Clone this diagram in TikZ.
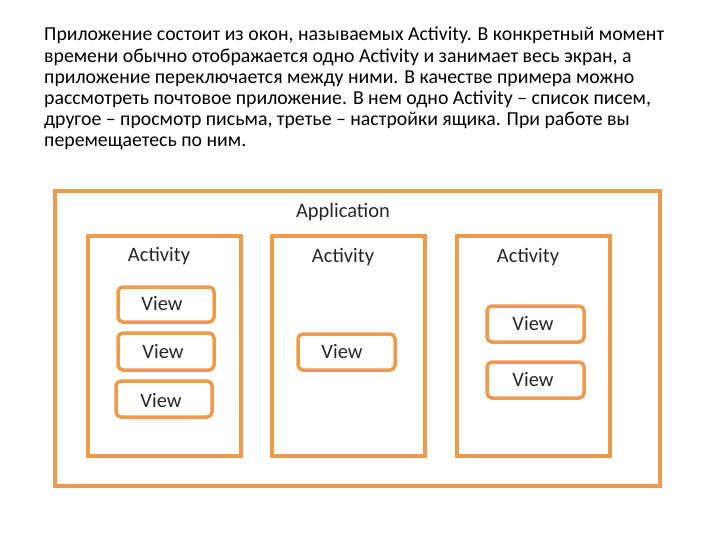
\documentclass[tikz,border=0pt]{standalone}
\usepackage{fontspec}
\setmainfont{Carlito}
\definecolor{org}{HTML}{EE9A4D}
\begin{document}
\begin{tikzpicture}[x=1pt,y=-1pt,
 box/.style={draw=org,line width=3.5pt},
 vbox/.style={draw=org,line width=3.5pt,rounded corners=5pt},
 lbl/.style={font=\fontsize{20.5}{24}\selectfont,text=black!85}]
\useasboundingbox (0,0) rectangle (720,540);
\node[anchor=north west,align=left,inner sep=0,font=\fontsize{19.8}{21.2}\selectfont] (txt) at (44,27)
{Приложение состоит из окон, называемых Activity. В конкретный момент\\
времени обычно отображается одно Activity и занимает весь экран, а\\
приложение переключается между ними. В качестве примера можно\\
рассмотреть почтовое приложение. В нем одно Activity – список писем,\\
другое – просмотр письма, третье – настройки ящика. При работе вы\\
перемещаетесь по ним.};
\draw[box] (55,191) rectangle (660,486);
\node[lbl] (app) at (343,212) {Application};
\draw[box] (88,236) rectangle (241,456);
\draw[box] (272,236) rectangle (425,456);
\draw[box] (457,236) rectangle (610,456);
\node[lbl] (a1) at (159,256) {Activity};
\node[lbl] (a2) at (343,257) {Activity};
\node[lbl] (a3) at (528,257) {Activity};
\draw[vbox] (118,287) rectangle (214,322); \node[lbl] (v1) at (162,304) {View};
\draw[vbox] (118,333) rectangle (214,370); \node[lbl] (v2) at (163,352) {View};
\draw[vbox] (116,381) rectangle (212,417); \node[lbl] (v3) at (161,401) {View};
\draw[vbox] (298,334) rectangle (395,370); \node[lbl] (v4) at (342,352) {View};
\draw[vbox] (487,306) rectangle (584,342); \node[lbl] (v5) at (533,324) {View};
\draw[vbox] (487,362) rectangle (584,398); \node[lbl] (v6) at (533,380) {View};
\end{tikzpicture}
\end{document}
